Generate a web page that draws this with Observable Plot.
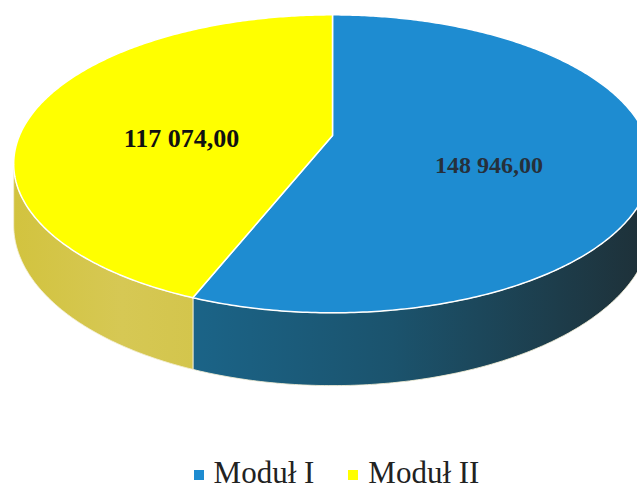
<!DOCTYPE html>
<html><head><meta charset="utf-8">
<script src="https://cdn.jsdelivr.net/npm/d3@7"></script>
<script src="https://cdn.jsdelivr.net/npm/@observablehq/plot@0.6"></script>
<style>
body{margin:0;background:#fff;width:637px;height:494px;overflow:hidden;position:relative;font-family:"Liberation Serif",serif;}
#chart svg{display:block}
#legend{position:absolute;left:0;top:459px;width:637px;height:28px;display:flex;justify-content:center;align-items:center;font-size:31px;line-height:28px;color:#222;padding-left:36px;box-sizing:border-box}
.item{display:flex;align-items:center;margin:0 17px}
.sw{width:10px;height:10px;display:inline-block;margin-right:10px;position:relative;top:2px}
</style></head><body>
<div id="chart"></div><div id="legend"></div>
<script>
// ---- data ----
const categories = ["Moduł I", "Moduł II"];
const values = [148946.00, 117074.00];
const valueLabels = ["148 946,00", "117 074,00"];

// ---- styles ----
const topColors = ["#1e8cd1", "#ffff00"];
const sideFills = ["url(#sideBlue)", "url(#sideYellow)"];
const labelColors = ["#26303b", "#111111"];
const labelSizes = [24, 26];

// ---- layout (3D pie geometry) ----
const W = 637, H = 440;
const CX = 332, CY = 135, RX = 313, RY = 143.6, K = 0.19, DEPTH = 59;
function proj(a, r, h) {
  const X = r * Math.sin(a), Z = -r * Math.cos(a);
  const p = 1 / (1 - K * Z);
  return [CX + RX * X * p, CY + RY * Z * p + h * DEPTH * p];
}
function arcPts(a0, a1, r, h, n) {
  const pts = [];
  for (let j = 0; j <= n; j++) pts.push(proj(a0 + (a1 - a0) * j / n, r, h));
  return pts;
}

const rows = categories.map((c, i) => ({category: c, value: values[i], label: valueLabels[i], i}));
const arcs = d3.pie().sort(null).value(d => d.value)(rows);

// silhouette angles (right & left extremes of the rim)
let aR = 0, aL = 0, maxX = -Infinity, minX = Infinity;
for (let j = 0; j <= 3600; j++) {
  const a = j / 3600 * 2 * Math.PI;
  const [x] = proj(a, 1, 0);
  if (x > maxX) { maxX = x; aR = a; }
  if (x < minX) { minX = x; aL = a; }
}

const wallMarks = [], topMarks = [], labelMarks = [];
arcs.forEach(d => {
  const i = d.data.i;
  const s = Math.max(d.startAngle, aR), e = Math.min(d.endAngle, aL);
  if (e > s) {
    const n = Math.max(2, Math.ceil((e - s) * 90));
    const pts = [...arcPts(s, e, 1, 0, n), ...arcPts(e, s, 1, 1, n)].map(([x, y]) => ({x, y}));
    wallMarks.push(Plot.line(pts, {x: "x", y: "y", curve: "linear-closed", fill: sideFills[i], stroke: "#f3efd6", strokeWidth: 1, strokeOpacity: 0.85}));
  }
  const n = Math.ceil((d.endAngle - d.startAngle) * 90);
  const pts = [proj(0, 0, 0), ...arcPts(d.startAngle, d.endAngle, 1, 0, n)].map(([x, y]) => ({x, y}));
  topMarks.push(Plot.line(pts, {x: "x", y: "y", curve: "linear-closed", fill: topColors[i], stroke: "#ffffff", strokeWidth: 1.5}));
  const mid = (d.startAngle + d.endAngle) / 2;
  const [lx, ly] = proj(mid, 0.5, 0);
  labelMarks.push(Plot.text([{x: lx, y: ly, t: d.data.label}], {
    x: "x", y: "y", text: "t", dy: 16, fill: labelColors[i], fontSize: labelSizes[i],
    fontWeight: "bold", fontFamily: "Liberation Serif"
  }));
});

const chart = Plot.plot({
  width: W, height: H, margin: 0,
  x: {domain: [0, W], range: [0, W], axis: null},
  y: {domain: [0, H], range: [0, H], axis: null},
  style: {background: "transparent"},
  marks: [...wallMarks, ...topMarks, ...labelMarks]
});

// gradients for the side walls
const svg = d3.select(chart);
const defs = svg.insert("defs", ":first-child");
function grad(id, x1, x2, stops) {
  const g = defs.append("linearGradient").attr("id", id).attr("gradientUnits", "userSpaceOnUse")
    .attr("x1", x1).attr("x2", x2).attr("y1", 0).attr("y2", 0);
  stops.forEach(([o, c]) => g.append("stop").attr("offset", o).attr("stop-color", c));
}
grad("sideBlue", 190, 640, [[0, "#1b6488"], [0.45, "#1b536d"], [1, "#1e3139"]]);
grad("sideYellow", 10, 195, [[0, "#d2c33e"], [0.6, "#d6c854"], [1, "#d3c54c"]]);

document.getElementById("chart").appendChild(chart);

// legend
const legend = d3.select("#legend");
categories.forEach((c, i) => {
  const it = legend.append("div").attr("class", "item");
  it.append("span").attr("class", "sw").style("background", topColors[i]);
  it.append("span").text(c);
});
</script>
</body></html>
